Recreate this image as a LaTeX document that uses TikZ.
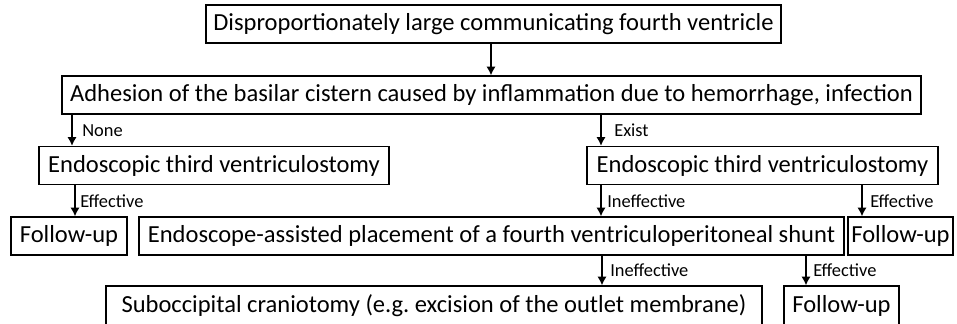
\documentclass[tikz,border=0pt]{standalone}
\usepackage{fontspec}
\setmainfont{Carlito}
\usepackage{tikz}
\usetikzlibrary{arrows.meta}
\tikzset{box/.style={draw,line width=1pt,minimum height=28.5pt,inner sep=0pt,font=\fontsize{18.4}{20}\selectfont},
  boxw/.style={minimum width=#1*0.75pt},
  lbl/.style={right,inner sep=0pt,xshift=#1*0.75pt,font=\fontsize{13.8}{15}\selectfont},
  arr/.style={line width=1.9pt,-{Latex[length=6.5pt,width=7pt]}}}

\begin{document}
\begin{tikzpicture}[x=0.75pt,y=-0.75pt]
            \useasboundingbox (0,0) rectangle (957,324);
            \node[box, boxw=575] (b1) at (493.5,24) {Disproportionately large communicating fourth ventricle};
            \node[box, boxw=859] (b2) at (491.5,95) {Adhesion of the basilar cistern caused by inflammation due to hemorrhage, infection};
            \node[box, boxw=350] (b3) at (214,165.5) {Endoscopic third ventriculostomy};
            \node[box, boxw=351] (b4) at (762.5,165.5) {Endoscopic third ventriculostomy};
            \node[box, boxw=116] (b5) at (69,236) {Follow-up};
            \node[box, boxw=705] (b6) at (491.5,236) {Endoscope-assisted placement of a fourth ventriculoperitoneal shunt};
            \node[box, boxw=105] (b7) at (900.5,236) {Follow-up};
            \node[box, boxw=656, minimum height=30pt] (b8) at (434,306) {Suboccipital craniotomy (e.g.\ excision of the outlet membrane)};
            \node[box, boxw=115, minimum height=30pt] (b9) at (841.5,306) {Follow-up};

            \path[arr]
            (b1.south -| 491,0) edge (b2.north -| 491,0)
            (b2.south -| 72,0) edge node[lbl=9] {None} (b3.north -| 72,0)
            (b2.south -| 601,0) edge node[lbl=12] {Exist} (b4.north -| 601,0)
            (b3.south -| 75,0) edge node[lbl=4] {Effective} (b5.north -| 75,0)
            (b4.south -| 601,0) edge node[lbl=5] {Ineffective} (b6.north -| 601,0)
            (b4.south -| 862,0) edge node[lbl=7] {Effective} (b7.north -| 862,0)
            (b6.south -| 602,0) edge node[lbl=7] {Ineffective} (b8.north -| 602,0)
            (b6.south -| 806,0) edge node[lbl=6] {Effective} (b9.north -| 806,0);
        \end{tikzpicture}
\end{document}
